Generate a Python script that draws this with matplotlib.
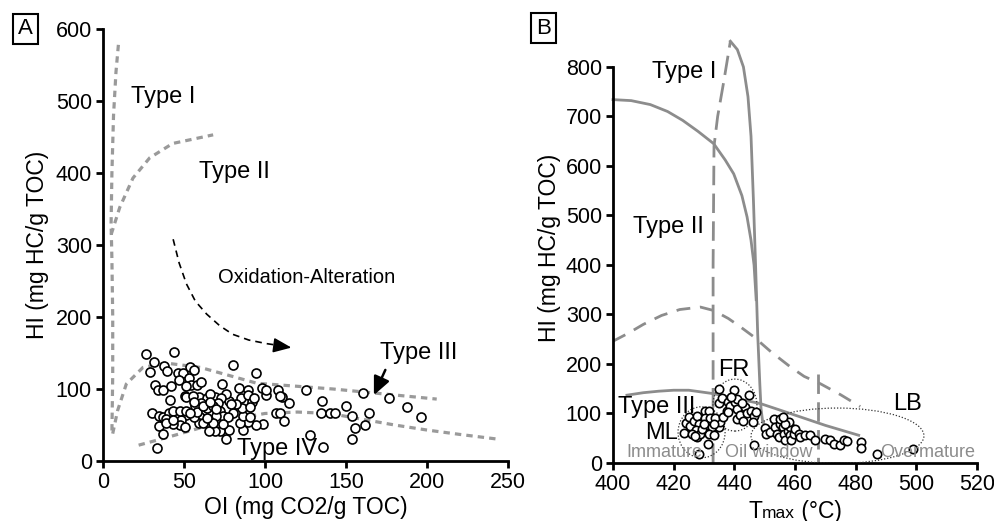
import matplotlib
matplotlib.use("Agg")
import matplotlib.pyplot as plt
from matplotlib.patches import Ellipse
from matplotlib.offsetbox import TextArea, HPacker, AnchoredOffsetbox

plt.rcParams['font.family'] = ['Liberation Sans', 'DejaVu Sans']

# ---------------- Panel A data (OI vs HI) ----------------
oi_a = [26.8, 31.3, 29.2, 37.7, 39.8, 43.7, 32, 34, 37, 41.8, 41.4, 30.5, 34.4, 37, 34.4, 36.9, 33.4,
        40.8, 43.3, 46.3, 49.4, 47, 53.6, 56.2, 53, 54.4, 51.5, 58, 60.8, 50.5, 51.5, 59.3, 63.9, 69,
        73.7, 80.3, 84, 84.9, 89.6, 89.6, 91.7, 94.3, 98, 100.5, 100.5, 108.3, 110.8, 109.5, 115, 107,
        109, 111.7, 125.6, 135, 134.5, 140, 143, 149.7, 154, 155.5, 153.5, 160.7, 162, 164.4, 176.5,
        187.4, 196, 127.7, 135.5, 98.9, 94.3, 89.6, 86.5, 84.4, 78, 76, 72, 69, 65.5, 86.5, 90.6, 86,
        80.3, 78, 76, 73, 71, 72, 74, 69.6, 65, 61.8, 59.7, 59.3, 56.2, 51.5, 48.4, 47.4, 43, 39, 47.4,
        63.9, 68, 66, 77, 82, 79, 50.6, 39, 43, 60.8, 57, 91, 93, 74, 62, 68, 51.5, 55.5, 58, 62, 66,
        70, 64, 56, 54]
hi_a = [148, 138, 123, 132, 125, 151, 106, 98, 98, 104, 85, 66, 63, 61, 48, 37, 17.5,
        66, 70, 122, 122, 113, 130, 127, 115, 105, 104, 105, 110, 90, 89, 89, 87, 89,
        107, 134, 102, 88, 98, 92, 82, 122, 102, 92, 98, 99, 89, 90, 81, 66,
        66, 55, 98, 83, 66, 66, 66, 76, 62, 46, 30, 95, 50, 67, 87,
        75, 61, 36, 20, 52, 50, 54, 43, 53, 43, 31, 41, 41, 41, 62, 61, 74,
        66, 84, 93, 87, 80, 70, 63, 62, 59, 70, 61, 53, 61, 64, 57, 50, 52, 59, 70,
        73, 77, 93, 61, 79, 79, 47, 53, 57, 80, 77, 75, 87, 52, 53, 53, 70, 90, 68, 76, 82,
        72, 60, 82, 66]

# Reference curves, panel A
typeI_a_x = [9.5, 8, 6.5, 5.5, 5.0, 5.5, 6.0, 6.0, 5.5]
typeI_a_y = [578, 540, 480, 400, 330, 280, 200, 120, 40]
typeII_a_x = [5.1, 10.3, 18.5, 28.8, 43, 68]
typeII_a_y = [315, 352, 393, 421, 441, 453]
typeIII_a_x = [6, 9, 14.4, 24.7, 39, 60, 95, 142, 206]
typeIII_a_y = [38, 70, 107, 130, 136, 130, 108, 100, 86]
typeIV_a_x = [22, 40, 60, 80, 100, 120, 140, 160, 180, 200, 220, 245]
typeIV_a_y = [22, 33, 46, 58, 66, 68, 66, 58, 50, 43, 37, 30]
oxid_x = [43.3, 47, 51.5, 57, 64, 72, 80, 90, 101, 110]
oxid_y = [308, 275, 246, 222, 204, 188, 176, 168, 163, 160]

# ---------------- Panel B data (Tmax vs HI) ----------------
tmax_b = [423.5, 424, 425, 425.5, 426.6, 427.7, 428.4, 427.5, 427.7, 428.8, 430.2, 431.5, 430.2, 431,
          432, 432.6, 431.5, 431.2, 433.2, 434.8, 435.4, 433.7, 429.3, 426, 428.4, 433.2, 429.9, 426.9,
          434.8, 434.8, 436, 436.3, 437.9, 437.6, 439.8, 438.7, 440.3, 440.9, 441, 441, 442, 443,
          443.6, 444.2, 445, 445.5, 446.4, 447, 446, 442.5, 439, 438, 446.4,
          450.2, 450.5, 451.9, 453, 453.5, 454, 455, 455.2, 454.6, 456, 456.3, 456.8, 457.6, 458.2,
          458.5, 458.7, 459.6, 460.1, 461.2, 461.8, 463.4, 465, 466.7, 470, 471.6, 472.7, 474.9, 476,
          477.1, 481.8, 481.8, 487, 498.9, 458, 456.6, 456]
hi_b = [61, 81, 93, 74, 85, 94, 79, 66, 53, 59, 106, 105, 90, 76,
        90, 73, 59, 39, 56, 73, 83, 90, 69, 59, 17.5, 79, 79, 54,
        150, 121, 131, 93, 123, 105, 148, 116, 123, 130, 110, 88, 96, 85,
        113, 100, 138, 106, 94, 103, 83, 121, 133, 103, 36,
        71, 59, 63, 88, 73, 59, 79, 88, 53, 73, 59, 46, 65, 73,
        56, 47, 59, 69, 59, 53, 56, 56, 46, 49, 46, 39, 36, 47,
        44, 42, 31, 19, 29, 83, 79, 93]

typeI_b_x = [438.7, 441, 443, 444.5, 445.5, 446.3, 447, 447.7, 448.4, 448.8, 449.3, 450.2]
typeI_b_y = [852, 835, 800, 740, 660, 530, 400, 261, 160, 110, 85, 74]
typeI_b_dash_x = [433, 433, 433.3, 434.5, 436.5, 438.7]
typeI_b_dash_y = [0, 400, 640, 700, 770, 852]
typeII_b_x = [400, 406, 412.3, 418, 423, 428, 433.2, 437, 439.8, 442.5, 444.2, 445.5, 446.5, 447.2]
typeII_b_y = [734, 732, 724, 710, 692, 670, 645, 612, 584, 540, 497, 450, 400, 330]
typeII_b_dash_x = [400, 405, 410, 416, 422, 428.8, 433.2, 438, 442, 446.4, 452, 458.5, 463, 468.4, 475, 481.5]
typeII_b_dash_y = [246, 262, 280, 298, 310, 315, 308, 292, 275, 255, 225, 194, 175, 160, 138, 114]
typeIII_b_x = [404.6, 410, 415, 420, 425, 433.2, 440, 448.6, 455, 461.8, 470, 481]
typeIII_b_y = [137, 142, 145, 147, 147, 140, 131, 120, 107, 93, 76, 56]
window_x = [467.5, 467.5]
window_y = [180, 0]

# ellipses: (centre x, centre y, width, height)
ell_ML = (429.2, 62, 15.5, 103)
ell_FR = (440.2, 117, 14.5, 105)
ell_LB = (474.0, 55, 57, 112)

GRAY_A = '#9a9a9a'
GRAY_B = '#8c8c8c'

fig = plt.figure(figsize=(9.95, 5.21), dpi=100)

# ================= Panel A =================
axA = fig.add_axes([103/995, 60/521, 405/995, 432/521])
axA.set_xlim(0, 250)
axA.set_ylim(0, 600)
for s in ['top', 'right']:
    axA.spines[s].set_visible(False)
for s in ['left', 'bottom']:
    axA.spines[s].set_linewidth(2)
axA.tick_params(direction='out', length=5, width=2, labelsize=15.5, pad=3)
axA.set_xticks([0, 50, 100, 150, 200, 250])
axA.set_yticks([0, 100, 200, 300, 400, 500, 600])
axA.set_xlabel('OI (mg CO2/g TOC)', fontsize=16.5, labelpad=2)
axA.set_ylabel('HI (mg HC/g TOC)', fontsize=16.5, labelpad=5)

dotA = dict(color=GRAY_A, lw=2.3, dashes=(2.0, 1.6), clip_on=False, zorder=2)
axA.plot(typeI_a_x, typeI_a_y, **dotA)
axA.plot(typeII_a_x, typeII_a_y, **dotA)
axA.plot(typeIII_a_x, typeIII_a_y, **dotA)
axA.plot(typeIV_a_x, typeIV_a_y, **dotA)

axA.plot(oxid_x, oxid_y, color='black', lw=1.2, dashes=(4, 3), zorder=3)
axA.annotate('', xy=(118, 157), xytext=(108, 160),
             arrowprops=dict(arrowstyle='-|>,head_length=1.1,head_width=0.45', color='black', lw=1.2))
axA.annotate('', xy=(166.5, 88), xytext=(175, 130),
             arrowprops=dict(arrowstyle='-|>,head_length=1.1,head_width=0.5', color='black', lw=1.8))

axA.scatter(oi_a, hi_a, s=42, facecolor='white', edgecolor='black', linewidth=1.2, zorder=4)

axA.text(17, 505, 'Type I', fontsize=17, va='center')
axA.text(59, 402, 'Type II', fontsize=17, va='center')
axA.text(171, 150, 'Type III', fontsize=17, va='center')
axA.text(83, 17, 'Type IV', fontsize=17, va='center', zorder=5)
axA.text(126, 255, 'Oxidation-Alteration', fontsize=14.5, va='center', ha='center')

# ================= Panel B =================
axB = fig.add_axes([613/995, 58/521, 364/995, 430.7/521])
axB.set_xlim(400, 520)
axB.set_ylim(0, 870)
for s in ['top', 'right']:
    axB.spines[s].set_visible(False)
for s in ['left', 'bottom']:
    axB.spines[s].set_linewidth(2)
axB.spines['left'].set_bounds(0, 800)
axB.tick_params(direction='out', length=5, width=2, labelsize=15.5, pad=3)
axB.set_xticks([400, 420, 440, 460, 480, 500, 520])
axB.set_yticks([0, 100, 200, 300, 400, 500, 600, 700, 800])
axB.set_ylabel('HI (mg HC/g TOC)', fontsize=16.5, labelpad=3)

# x label "Tmax (°C)" with smaller "max"
parts = [TextArea('T', textprops=dict(fontsize=16.5)),
         TextArea('max', textprops=dict(fontsize=12.5)),
         TextArea(' (°C)', textprops=dict(fontsize=16.5))]
pack = HPacker(children=parts, align='baseline', pad=0, sep=0)
ab = AnchoredOffsetbox(loc='upper center', child=pack, frameon=False,
                       bbox_to_anchor=(0.5, -0.085), bbox_transform=axB.transAxes,
                       borderpad=0, pad=0)
axB.add_artist(ab)

solB = dict(color=GRAY_B, lw=2, zorder=2, clip_on=False)
dashB = dict(color=GRAY_B, lw=2, dashes=(7, 3), zorder=2, clip_on=False)
axB.plot(typeI_b_x, typeI_b_y, **solB)
axB.plot(typeII_b_x, typeII_b_y, **solB)
axB.plot(typeIII_b_x, typeIII_b_y, **solB)
axB.plot(typeI_b_dash_x, typeI_b_dash_y, **dashB)
axB.plot(typeII_b_dash_x, typeII_b_dash_y, color=GRAY_B, lw=2, dashes=(5, 3.5), zorder=2)
axB.plot(window_x, window_y, **dashB)

for (cx, cy, w, h) in (ell_ML, ell_FR, ell_LB):
    axB.add_patch(Ellipse((cx, cy), w, h, fill=False, edgecolor='#333333', lw=0.9,
                          linestyle=(0, (1, 1.5)), zorder=3))

axB.scatter(tmax_b, hi_b, s=36, facecolor='white', edgecolor='black', linewidth=1.2, zorder=4)

axB.text(412.9, 790, 'Type I', fontsize=17, va='center')
axB.text(406.6, 477, 'Type II', fontsize=17, va='center')
axB.text(401.5, 113, 'Type III', fontsize=17, va='center', zorder=5)
axB.text(410.7, 61, 'ML', fontsize=17, va='center', zorder=5)
axB.text(434.8, 187, 'FR', fontsize=17, va='center')
axB.text(492.5, 120, 'LB', fontsize=17, va='center')
axB.text(404.4, 22, 'Immature', fontsize=13, va='center', color='#8c8c8c', zorder=5)
axB.text(437, 22, 'Oil window', fontsize=13, va='center', color='#8c8c8c', zorder=5)
axB.text(488, 22, 'Overmature', fontsize=13, va='center', color='#8c8c8c', zorder=5)

# panel letters
fig.text(25.5/995, 1 - 29/521, 'A', fontsize=16, ha='center', va='center',
         bbox=dict(boxstyle='square,pad=0.22', fc='white', ec='black', lw=1.5))
fig.text(543.5/995, 1 - 28/521, 'B', fontsize=16, ha='center', va='center',
         bbox=dict(boxstyle='square,pad=0.22', fc='white', ec='black', lw=1.5))

fig.savefig('out.png', dpi=100)
